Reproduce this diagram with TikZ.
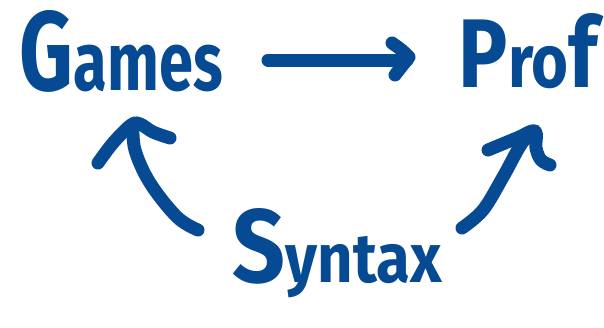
\documentclass[tikz,border=0pt]{standalone}
\usepackage{fontspec}
\usepackage{graphicx}
\setmainfont{Fira Sans}
\definecolor{inkblue}{RGB}{5,74,146}
\newcommand{\bigletter}[1]{{\fontsize{13.6}{14}\selectfont #1}}
\newcommand{\midletter}[1]{{\fontsize{13}{14}\selectfont #1}}
\tikzset{
  word/.style={inner sep=0pt, outer sep=0pt, anchor=base, text=inkblue,
    font=\fontsize{10}{12}\selectfont\bfseries},
  pen/.style={draw=inkblue, line width=13pt, line cap=round, line join=round}
}
\begin{document}
\begin{tikzpicture}[x=1pt, y=-1pt]
  \useasboundingbox (0,0) rectangle (604,327);

  % the three words, each sitting on its baseline
  \node[word] (games)  at (121.5,90)  {\resizebox{203pt}{80pt}{\bigletter{G}ames}};
  \node[word] (prof)   at (528.5,87)  {\resizebox{139pt}{74pt}{\midletter{P}ro\midletter{f}}};
  \node[word] (syntax) at (337.5,282) {\resizebox{209pt}{74pt}{{\fontsize{15}{16}\selectfont S}yntax}};

  % end points of the strokes
  \coordinate (gp-start) at (268,60);
  \coordinate (gp-end)   at (407,60);
  \coordinate (sg-start) at (198,230);
  \coordinate (sg-tip)   at (133,125);
  \coordinate (sp-start) at (462,228);
  \coordinate (sp-tip)   at (535,132);

  % Games --> Prof
  \draw[pen] (gp-start) -- (gp-end);
  \draw[pen] (392,43) .. controls (402,50) .. (409,57) .. controls (402,66) .. (395,75);

  % Syntax --> Games
  \draw[pen] plot[smooth, tension=0.6] coordinates {(sg-start) (177,217) (150,183) (135,150) (sg-tip)};
  \draw[pen] plot[smooth, tension=0.6] coordinates {(98,163) (113,143) (131,125) (140,124) (153,132) (170,138)};

  % Syntax --> Prof
  \draw[pen] plot[smooth, tension=0.6] coordinates {(sp-start) (483,210) (503,177) (522,143) (sp-tip)};
  \draw[pen] plot[smooth, tension=0.6] coordinates {(488,150) (517,138) (535,131) (536,148) (541,160) (550,165)};
\end{tikzpicture}
\end{document}
